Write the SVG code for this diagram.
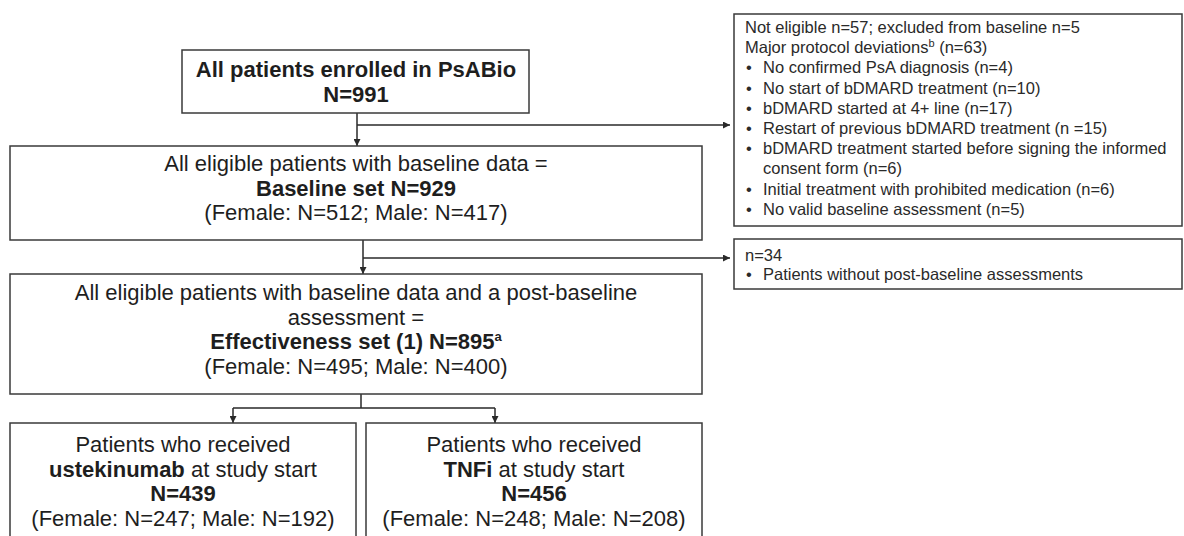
<svg xmlns="http://www.w3.org/2000/svg" width="1184" height="536" viewBox="0 0 1184 536">
<style>
  .box { fill: #ffffff; stroke: #3a3a3a; stroke-width: 1.5; }
  .t { font-family: "Liberation Sans", Arial, sans-serif; font-size: 22px; fill: #1e1e1e; text-anchor: middle; }
  .b { font-weight: bold; }
  .s { font-family: "Liberation Sans", Arial, sans-serif; font-size: 16.5px; fill: #2a2a2a; }
  .c { fill: none; stroke: #2a2a2a; stroke-width: 1.5; }
</style>
<defs>
  <marker id="ah" viewBox="0 0 10 10" refX="10" refY="5" markerWidth="7" markerHeight="7" markerUnits="userSpaceOnUse" orient="auto">
    <path d="M0,0 L10,5 L0,10 z" fill="#2a2a2a"/>
  </marker>
</defs>
<rect width="1184" height="536" fill="#ffffff"/>

<g id="connectors">
  <path class="c" d="M357,113 V146" marker-end="url(#ah)"/>
  <path class="c" d="M357,125 H730" marker-end="url(#ah)"/>
  <path class="c" d="M363,240 V274" marker-end="url(#ah)"/>
  <path class="c" d="M363,258 H730" marker-end="url(#ah)"/>
  <path class="c" d="M361,394 V408 M233,408 H495"/>
  <path class="c" d="M233,408 V423" marker-end="url(#ah)"/>
  <path class="c" d="M495,408 V423" marker-end="url(#ah)"/>
</g>

<g id="enrolled">
  <rect class="box" x="182" y="50" width="347" height="63"/>
  <text class="t b" x="356" y="77">All patients enrolled in PsABio</text>
  <text class="t b" x="356" y="102">N=991</text>
</g>

<g id="baseline">
  <rect class="box" x="10" y="146" width="692" height="94"/>
  <text class="t" x="356" y="171">All eligible patients with baseline data =</text>
  <text class="t b" x="356" y="195.5">Baseline set N=929</text>
  <text class="t" x="356" y="220">(Female: N=512; Male: N=417)</text>
</g>

<g id="effectiveness">
  <rect class="box" x="10" y="274" width="692" height="120"/>
  <text class="t" x="356" y="300">All eligible patients with baseline data and a post-baseline</text>
  <text class="t" x="356" y="324.5">assessment =</text>
  <text class="t b" x="356" y="349">Effectiveness set (1) N=895<tspan font-size="13" dy="-8">a</tspan></text>
  <text class="t" x="356" y="373.5">(Female: N=495; Male: N=400)</text>
</g>

<g id="ustekinumab">
  <rect class="box" x="10" y="423" width="346" height="130"/>
  <text class="t" x="183" y="452">Patients who received</text>
  <text class="t" x="183" y="476.5"><tspan class="b">ustekinumab</tspan> at study start</text>
  <text class="t b" x="183" y="501">N=439</text>
  <text class="t" x="183" y="525.5">(Female: N=247; Male: N=192)</text>
</g>

<g id="tnfi">
  <rect class="box" x="366" y="423" width="336" height="130"/>
  <text class="t" x="534" y="452">Patients who received</text>
  <text class="t" x="534" y="476.5"><tspan class="b">TNFi</tspan> at study start</text>
  <text class="t b" x="534" y="501">N=456</text>
  <text class="t" x="534" y="525.5">(Female: N=248; Male: N=208)</text>
</g>

<g id="excluded1">
  <rect class="box" x="734" y="14" width="448" height="212"/>
  <text class="s" x="745" y="33">Not eligible n=57; excluded from baseline n=5</text>
  <text class="s" x="745" y="53.2">Major protocol deviations<tspan font-size="11" dy="-6">b</tspan><tspan dy="6"> (n=63)</tspan></text>
  <text class="s" x="746" y="73.4">•</text><text class="s" x="763" y="73.4">No confirmed PsA diagnosis (n=4)</text>
  <text class="s" x="746" y="93.6">•</text><text class="s" x="763" y="93.6">No start of bDMARD treatment (n=10)</text>
  <text class="s" x="746" y="113.8">•</text><text class="s" x="763" y="113.8">bDMARD started at 4+ line (n=17)</text>
  <text class="s" x="746" y="134">•</text><text class="s" x="763" y="134">Restart of previous bDMARD treatment (n =15)</text>
  <text class="s" x="746" y="154.2">•</text><text class="s" x="763" y="154.2">bDMARD treatment started before signing the informed</text>
  <text class="s" x="763" y="174.4">consent form (n=6)</text>
  <text class="s" x="746" y="194.6">•</text><text class="s" x="763" y="194.6">Initial treatment with prohibited medication (n=6)</text>
  <text class="s" x="746" y="214.8">•</text><text class="s" x="763" y="214.8">No valid baseline assessment (n=5)</text>
</g>

<g id="excluded2">
  <rect class="box" x="734" y="239" width="448" height="50"/>
  <text class="s" x="745" y="261">n=34</text>
  <text class="s" x="746" y="280">•</text><text class="s" x="763" y="280">Patients without post-baseline assessments</text>
</g>
</svg>
